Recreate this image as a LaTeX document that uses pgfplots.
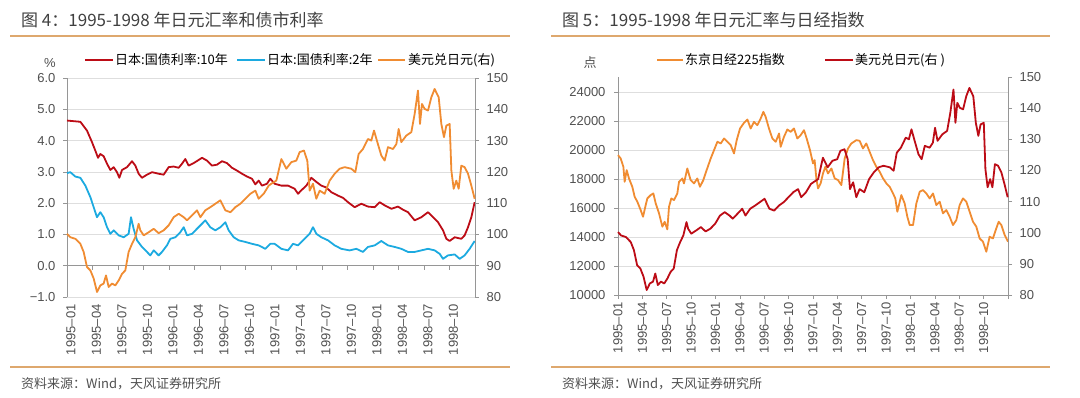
\documentclass[border=0pt]{standalone}
\usepackage{pgfplots}
\pgfplotsset{compat=1.18}
\usepackage{pgfplotstable}
\usepackage{fontspec}
\setmainfont{Liberation Sans}
\newfontfamily\cjk{Noto Sans CJK SC}
\definecolor{cred}{RGB}{188,12,22}
\definecolor{cblue}{RGB}{28,170,224}
\definecolor{corange}{RGB}{240,140,50}
\definecolor{titlegray}{RGB}{64,64,64}
\definecolor{labgray}{RGB}{80,80,80}
\definecolor{axgray}{RGB}{150,150,150}
\definecolor{gridgray}{RGB}{222,222,222}
\definecolor{tan}{RGB}{222,168,110}

\pgfplotstableread{
t y
0 100.2
0.39 99.1
0.98 98.6
1.57 97
1.96 94.4
2.35 89.6
2.75 88.5
3.14 85.9
3.53 81.6
3.92 83.7
4.31 84.3
4.59 86.9
4.90 83.2
5.29 84.3
5.69 83.7
6.08 85.3
6.47 87.4
6.86 88.5
7.25 94.4
7.65 97
8.04 99.1
8.43 103.4
8.63 101.3
9.02 99.7
9.61 100.7
10.20 101.8
10.78 100.4
11.37 101.3
11.96 102.9
12.55 105.5
13.14 106.6
13.73 105.5
14.12 104.5
14.71 106.1
15.29 107.7
15.69 105.5
16.27 107.7
16.86 108.7
17.45 109.8
18.04 110.9
18.63 107.7
19.22 107.1
19.80 108.7
20.39 109.8
20.98 111.4
21.57 113
22.16 114
22.55 111.4
23.14 113
23.73 115.6
24.04 116.2
24.63 117.2
25.22 124.1
25.80 121
26.39 123.1
26.98 123.6
27.37 126.3
27.88 126.8
28.27 123.6
28.55 114
28.94 116.2
29.33 111.4
29.73 114
30.31 113
30.90 117.2
31.49 119.4
32.08 121
32.67 121.5
33.45 121
33.92 119.9
34.31 125.7
34.82 127.3
35.41 130.5
35.80 130
36.12 133.2
36.51 129.5
36.98 125.2
37.37 123.6
37.76 127.9
38.35 127.3
38.75 128.9
39.02 133.7
39.33 129.5
39.92 131.6
40.51 132.7
40.90 138.5
41.29 146
41.53 135.3
41.76 141.7
42.08 140.1
42.47 139.6
42.86 143.8
43.25 146.5
43.73 143.8
44.04 135.3
44.35 131.1
44.63 134.8
45.02 135.3
45.22 120.4
45.49 114.6
45.80 117.2
46.08 114.6
46.39 122
46.78 121.5
47.18 119.4
47.57 115.6
47.96 111.4
}\yen

\pgfplotstableread{
t y
0 4.64
0.78 4.62
1.57 4.6
2.35 4.32
2.94 3.95
3.33 3.68
3.65 3.45
3.92 3.57
4.31 3.5
4.71 3.26
5.10 3.06
5.49 3.15
5.88 2.99
6.16 2.81
6.47 3.06
7.06 3.15
7.65 3.34
8.04 3.2
8.43 2.94
8.82 2.81
9.41 2.91
10 2.99
10.78 2.94
11.37 2.91
11.96 3.15
12.55 3.17
13.14 3.13
13.53 3.26
13.92 3.41
14.31 3.2
14.90 3.28
15.49 3.38
15.88 3.45
16.47 3.36
17.06 3.2
17.65 3.23
18.24 3.34
18.82 3.28
19.41 3.13
20 3.04
20.59 2.94
21.18 2.85
21.76 2.78
22.16 2.6
22.55 2.72
22.94 2.56
23.53 2.62
23.92 2.78
24.43 2.62
25.22 2.56
26 2.56
26.78 2.46
27.18 2.3
27.57 2.41
28.16 2.56
28.75 2.81
29.33 2.68
29.92 2.56
30.51 2.5
31.1 2.35
31.88 2.24
32.47 2.17
33.06 2.03
33.84 1.87
34.63 1.98
35.41 1.89
36.2 1.87
36.78 2.03
37.37 1.93
38.16 1.82
38.94 1.89
39.53 1.79
40.12 1.71
40.9 1.45
41.69 1.55
42.47 1.71
43.06 1.55
43.65 1.39
44.24 1.13
44.63 0.86
45.02 0.79
45.61 0.91
46.39 0.86
46.78 0.97
47.18 1.23
47.57 1.55
47.96 2.03
}\jgbten

\pgfplotstableread{
t y
0 2.96
0.39 2.99
0.98 2.85
1.57 2.81
2.16 2.56
2.75 2.19
3.14 1.87
3.53 1.55
3.92 1.71
4.31 1.55
4.71 1.23
5.10 1.02
5.49 1.13
6.08 0.97
6.67 0.91
7.25 1.02
7.53 1.55
7.84 1.18
8.24 0.81
8.82 0.6
9.41 0.44
9.80 0.33
10.2 0.49
10.78 0.33
11.18 0.44
11.76 0.65
12.16 0.86
12.75 0.91
13.33 1.07
13.73 1.23
14.12 0.97
14.71 1.02
15.29 1.18
15.88 1.34
16.27 1.45
16.86 1.23
17.45 1.13
18.04 1.23
18.63 1.39
19.02 1.13
19.61 0.91
20.2 0.81
20.98 0.76
21.76 0.7
22.55 0.65
23.33 0.54
23.92 0.7
24.43 0.7
25.22 0.54
26 0.49
26.59 0.7
27.18 0.65
27.96 0.86
28.55 1.02
28.94 1.23
29.33 1.02
29.92 0.91
30.71 0.81
31.49 0.65
32.27 0.54
33.25 0.49
34.04 0.54
34.82 0.44
35.41 0.6
36.2 0.65
36.98 0.79
37.76 0.65
38.55 0.6
39.33 0.54
40.12 0.44
40.9 0.44
41.69 0.49
42.47 0.54
43.25 0.49
43.84 0.38
44.24 0.22
44.82 0.33
45.61 0.36
46.2 0.22
46.78 0.33
47.37 0.54
47.96 0.79
}\jgbtwo

\pgfplotstableread{
t y
0 19643
0.33 19414
0.66 18840
0.82 17806
1.07 18610
1.35 18036
1.76 17462
2.05 16773
2.38 16429
2.79 15855
3.08 15396
3.41 16199
3.61 16658
4.02 16888
4.35 17003
4.64 16314
5.05 15626
5.46 14707
5.74 15051
6.07 14523
6.28 16085
6.56 16658
6.89 16544
7.30 17003
7.51 17806
7.92 18036
8.12 17692
8.53 18725
8.94 17921
9.35 17692
9.76 18036
10.09 17462
10.50 17921
10.91 18610
11.41 19414
11.82 19988
12.23 20562
12.64 20448
13.05 20792
13.46 20562
13.87 20332
14.28 19758
14.61 20677
15.02 21480
15.51 21870
15.92 22100
16.33 21480
16.74 21939
17.15 21710
17.56 22169
17.89 22628
18.17 22284
18.58 21480
19.0 20792
19.41 20562
19.82 21136
20.02 20217
20.43 20906
20.84 21411
21.25 21250
21.66 21480
22.07 20792
22.48 21021
22.89 21365
23.22 20792
23.63 19988
24.0 19069
24.2 19299
24.41 18036
24.62 17347
24.94 17692
25.23 18380
25.52 18840
25.85 18380
26.26 18725
26.67 18036
27.08 17921
27.49 17577
27.9 19414
28.31 20102
28.72 20448
29.33 20677
29.74 20631
30.15 20102
30.56 20448
30.97 19873
31.38 19299
31.79 18840
32.21 18495
32.62 18036
33.03 17692
33.44 17462
33.85 17003
34.13 16658
34.38 15740
34.87 16888
35.28 16314
35.61 15396
35.9 14822
36.31 14822
36.72 16314
37.13 17118
37.54 17232
37.95 17003
38.36 16658
38.77 17003
39.18 16199
39.59 16429
40.0 15626
40.41 15855
40.82 15396
41.23 14822
41.64 15166
42.05 16199
42.46 16658
42.87 16429
43.28 15740
43.69 15051
44.1 14707
44.51 13903
44.92 13674
45.33 12985
45.74 14018
46.15 13903
46.56 14592
46.85 15051
47.18 14822
47.59 14133
48.0 13674
}\nikkei

\pgfplotsset{
  base/.style={
    scale only axis, xmin=0, xmax=48,
    tick align=outside, major tick length=4pt,
    tick style={color=axgray, line width=0.6pt},
    axis line style={color=axgray, line width=0.6pt},
    ticklabel style={font=\fontsize{13}{13}\selectfont, color=labgray},
    /pgf/number format/assume math mode=true,
    scaled y ticks=false, scaled x ticks=false,
    clip=false,
  },
  xlabs/.style={
    xtick={0,3,...,45},
    xticklabels={1995–01,1995–04,1995–07,1995–10,1996–01,1996–04,1996–07,1996–10,1997–01,1997–04,1997–07,1997–10,1998–01,1998–04,1998–07,1998–10},
    xticklabel style={rotate=90, anchor=east, font=\fontsize{13}{13}\selectfont, color=labgray},
  },
}

\begin{document}
\begin{tikzpicture}[x=1pt,y=1pt]
\path[use as bounding box] (0,0) rectangle (1080,398);

% ---------- Left panel ----------
\node[anchor=west, font=\cjk\fontsize{17}{17}\selectfont, color=titlegray, inner sep=0] at (21,378) {图 4：1995-1998 年日元汇率和债市利率};
\draw[tan, line width=1.8pt] (10,362) -- (510,362);
\draw[tan, line width=1.8pt] (10,31) -- (510,31);
\node[anchor=west, font=\cjk\fontsize{13}{13}\selectfont, color=labgray, inner sep=0] at (21,14) {资料来源：Wind，天风证券研究所};

\node[font=\fontsize{13}{13}\selectfont, color=labgray] at (50,335) {\%};
\draw[cred, line width=1.8pt] (85,338) -- (113,338);
\node[anchor=west, font=\cjk\fontsize{13}{13}\selectfont, inner sep=0] at (115,338) {日本:国债利率:10年};
\draw[cblue, line width=1.8pt] (237,338) -- (265,338);
\node[anchor=west, font=\cjk\fontsize{13}{13}\selectfont, inner sep=0] at (267,338) {日本:国债利率:2年};
\draw[corange, line width=1.8pt] (378,338) -- (405,338);
\node[anchor=west, font=\cjk\fontsize{13}{13}\selectfont, inner sep=0] at (408,338) {美元兑日元(右)};

\begin{axis}[base, xlabs, at={(67pt,101pt)}, anchor=south west, width=408pt, height=219pt,
  ymin=-1, ymax=6, ytick={-1,0,...,6},
  yticklabels={−1.0,0.0,1.0,2.0,3.0,4.0,5.0,6.0},
  yticklabel style={xshift=-4pt},
  axis y line*=left, axis x line*=bottom,
  x axis line style={draw=none}, xtick style={draw=none},
  ymajorgrids, grid style={gridgray, line width=0.6pt},
  xticklabel style={yshift=-4pt},
]
\addplot[cred, line width=1.8pt, line join=round] table[x=t,y=y] {\jgbten};
\addplot[cblue, line width=1.8pt, line join=round] table[x=t,y=y] {\jgbtwo};
\draw[axgray, line width=0.6pt] (axis cs:0,0) -- (axis cs:48,0);
\pgfplotsinvokeforeach{3,6,9,12,15,18,21,24,27,30,33,36,39,42,45}{\draw[axgray, line width=0.6pt] (axis cs:#1,0) -- (axis cs:#1,-0.13);}
\end{axis}
\begin{axis}[base, at={(67pt,101pt)}, anchor=south west, width=408pt, height=219pt,
  ymin=80, ymax=150, ytick={80,90,...,150},
  yticklabel style={xshift=4pt},
  axis y line*=right, axis x line=none,
]
\addplot[corange, line width=1.8pt, line join=round] table[x=t,y=y] {\yen};
\end{axis}

% ---------- Right panel ----------
\node[anchor=west, font=\cjk\fontsize{17}{17}\selectfont, color=titlegray, inner sep=0] at (562,378) {图 5：1995-1998 年日元汇率与日经指数};
\draw[tan, line width=1.8pt] (551,362) -- (1050,362);
\draw[tan, line width=1.8pt] (551,31) -- (1050,31);
\node[anchor=west, font=\cjk\fontsize{13}{13}\selectfont, color=labgray, inner sep=0] at (562,14) {资料来源：Wind，天风证券研究所};

\node[font=\cjk\fontsize{13}{13}\selectfont, color=labgray] at (590,335) {点};
\draw[corange, line width=1.8pt] (657,338) -- (683,338);
\node[anchor=west, font=\cjk\fontsize{13}{13}\selectfont, inner sep=0] at (685,338) {东京日经225指数};
\draw[cred, line width=1.8pt] (825,338) -- (853,338);
\node[anchor=west, font=\cjk\fontsize{13}{13}\selectfont, inner sep=0] at (855,338) {美元兑日元(右 )};

\begin{axis}[base, xlabs, at={(618pt,103pt)}, anchor=south west, width=390pt, height=218pt,
  ymin=10000, ymax=25030, ytick={10000,12000,...,24000},
  yticklabels={10000,12000,14000,16000,18000,20000,22000,24000},
  yticklabel style={xshift=-5pt},
  axis y line*=left, axis x line*=bottom,
  xtick={0,3,...,48},
  ymajorgrids, grid style={gridgray, line width=0.6pt},
]
\addplot[corange, line width=1.8pt, line join=round] table[x=t,y=y] {\nikkei};
\end{axis}
\begin{axis}[base, at={(618pt,103pt)}, anchor=south west, width=390pt, height=218pt,
  ymin=80, ymax=150, ytick={80,90,...,150},
  yticklabel style={xshift=4pt},
  axis y line*=right, axis x line=none,
]
\addplot[cred, line width=1.8pt, line join=round] table[x=t,y=y] {\yen};
\end{axis}
\end{tikzpicture}
\end{document}
